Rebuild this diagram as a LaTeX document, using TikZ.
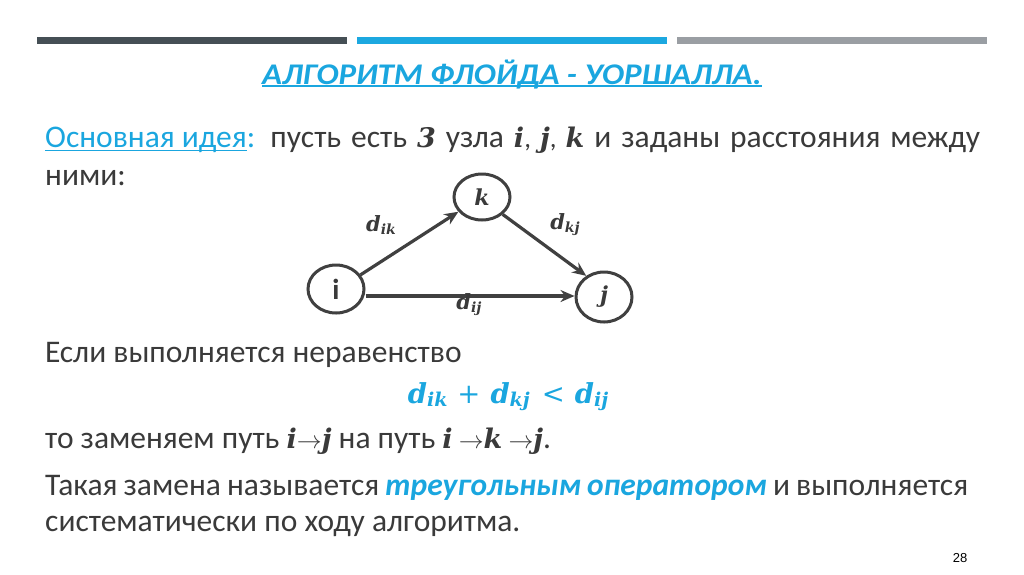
\documentclass[tikz,border=0pt]{standalone}
\usepackage{fontspec}
\setmainfont{Carlito}
\newfontfamily\mf{DejaVu Serif}
\newfontfamily\pnf{Liberation Sans}
\definecolor{txt}{HTML}{3A3A3A}
\definecolor{accent}{HTML}{1AA6DF}
\definecolor{bardark}{HTML}{454F55}
\definecolor{barblue}{HTML}{1CA8E0}
\definecolor{bargray}{HTML}{9A9EA3}
\definecolor{edge}{HTML}{404040}
\newcommand\bi[1]{{\mf\bfseries\itshape #1}}
\newcommand\dsub[2]{\bi{d}\raisebox{-0.3ex}{\fontsize{#2}{#2}\selectfont\bi{#1}}}
\newcommand\ulx[3]{\leavevmode\setbox0\hbox{#3}\rlap{\rule[-#1]{\wd0}{#2}}\box0}
\usetikzlibrary{arrows.meta,shapes.geometric}
\tikzset{
  txtline/.style={anchor=base west, inner sep=0pt, text=txt, font=\fontsize{31.5}{36}\selectfont},
  vert/.style={draw=edge, line width=3pt, ellipse, minimum width=56pt, minimum height=48pt, inner sep=0pt, text=txt},
  edg/.style={draw=edge, line width=3.2pt, -{Stealth[length=14pt,width=12pt]}},
}
\begin{document}
\begin{tikzpicture}[x=1pt,y=-1pt]
\useasboundingbox[fill=white] (0,0) rectangle (1024,574);
% bars
\fill[bardark] (37,37) rectangle (347,44);
\fill[barblue] (357,37) rectangle (667,44);
\fill[bargray] (677,37) rectangle (987,44);
% title
\node[anchor=base, inner sep=0pt, text=accent] (title) at (512,84)
  {\fontsize{30}{36}\selectfont\bfseries\itshape\scalebox{1.1}[1]{\ulx{3pt}{1.6pt}{АЛГОРИТМ ФЛОЙДА - УОРШАЛЛА.}}};
% line 1
\node[txtline] (l1) at (45,147)
  {\makebox[935pt][s]{{\color{accent}\ulx{4pt}{1.3pt}{Основная идея}:} пусть есть {\fontsize{27}{30}\selectfont\bi{3}} узла {\fontsize{27}{30}\selectfont\bi{i}, \bi{j}, \bi{k}} и заданы расстояния между}};
\node[txtline] (l2) at (45,185) {ними:};
% graph
\node[vert] (i) at (336,289) {\fontsize{29}{30}\selectfont\bfseries i};
\node[vert, minimum height=46pt] (k) at (482,197) {\fontsize{22}{24}\selectfont\bi{k}};
\node[vert, minimum height=50pt] (j) at (604,297) {\fontsize{22}{24}\selectfont\bi{j}};
\draw[edg] (i.30) -- (k.212);
\draw[edg] (k.-40) -- (j.130);
\draw[edg] (i.east |- 0,296) -- (j.west |- 0,296);
\node[text=txt, inner sep=0pt] (lik) at (381,225) {\fontsize{21}{24}\selectfont\dsub{ik}{14}};
\node[text=txt, inner sep=0pt] (lkj) at (565,225) {\fontsize{21}{24}\selectfont\dsub{kj}{14}};
\node[text=txt, inner sep=0pt] (lij) at (469,305) {\fontsize{21}{24}\selectfont\dsub{ij}{14}};
% text
\node[txtline] (l3) at (45,362) {Если выполняется неравенство};
\node[anchor=base, inner sep=0pt, text=accent] (f) at (508,403)
  {\fontsize{27.5}{30}\selectfont\dsub{ik}{19}\hspace{10pt}{\mf +}\hspace{10pt}\dsub{kj}{19}\hspace{12pt}{\mf <}\hspace{10pt}\dsub{ij}{19}};
\node[txtline] (l4) at (45,448)
  {то заменяем путь {\fontsize{27}{30}\selectfont\bi{i}$\rightarrow$\bi{j}} на путь {\fontsize{27}{30}\selectfont\bi{i} $\rightarrow$\bi{k} $\rightarrow$\bi{j}}.};
\node[txtline] (l5) at (45,495)
  {\makebox[923pt][s]{Такая замена называется {\color{accent}\bfseries\itshape треугольным оператором} и выполняется}};
\node[txtline] (l6) at (45,531) {систематически по ходу алгоритма.};
\node[anchor=base, inner sep=0pt, text=black] (pn) at (960,562) {\fontsize{13}{15}\selectfont\pnf 28};
\end{tikzpicture}
\end{document}
